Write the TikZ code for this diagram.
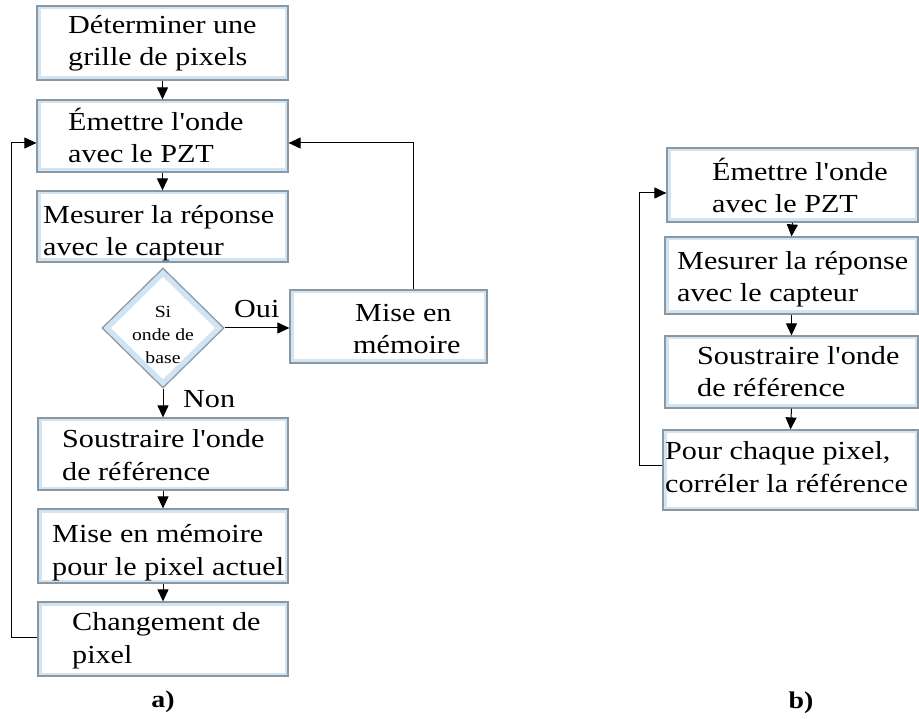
\documentclass[tikz,border=0pt]{standalone}
\usepackage{fontspec}
\setmainfont{Liberation Serif}[FakeStretch=1.16, Ligatures=TeXOff]
\usetikzlibrary{arrows.meta,shapes.geometric,fit,calc}
\definecolor{boxgray}{HTML}{8A98A3}
\definecolor{bandblue}{HTML}{D2E3F1}
\begin{document}
\begin{tikzpicture}[x=1pt,y=-1pt,
  box/.style={draw=boxgray, line width=1.2pt, fill=white, inner sep=0pt,
    path picture={\draw[line width=7pt, bandblue] (path picture bounding box.south west) rectangle (path picture bounding box.north east);}},
  decision/.style={diamond, draw=boxgray, line width=1.2pt, fill=white, inner sep=0pt,
    minimum width=122pt, minimum height=120pt,
    path picture={\draw[line width=12pt, bandblue] (path picture bounding box.north) -- (path picture bounding box.east) -- (path picture bounding box.south) -- (path picture bounding box.west) -- cycle;}},
  txt/.style={inner sep=0pt, align=left, anchor=base west, font=\fontsize{26}{32.5}\selectfont},
  small/.style={inner sep=0pt, align=center, font=\fontsize{17}{23}\selectfont},
  lbl/.style={inner sep=0pt, anchor=base west, font=\fontsize{26}{30}\selectfont},
  capt/.style={inner sep=0pt, anchor=base, font=\fontsize{24}{28}\selectfont\bfseries},
  arr/.style={draw=black, line width=1pt, -{Triangle[length=12pt,width=11pt]}}]
\useasboundingbox[fill=white] (0,0) rectangle (919,719);

% left column boxes
\node[box, fit={(37,6) (288,80)}] (b1) {};
\node[box, fit={(37,100) (288,172)}] (b2) {};
\node[box, fit={(37,191) (288,262)}] (b3) {};
\node[decision] (dia) at (163,328) {};
\node[box, fit={(290,290) (487,363)}] (mem) {};
\node[box, fit={(38,418) (288,490)}] (b4) {};
\node[box, fit={(38,509) (288,583)}] (b5) {};
\node[box, fit={(38,602) (288,676)}] (b6) {};

% right column boxes
\node[box, fit={(667,148) (918,222)}] (r1) {};
\node[box, fit={(665,237) (918,314)}] (r2) {};
\node[box, fit={(665,336) (918,408)}] (r3) {};
\node[box, fit={(663,430) (918,510)}] (r4) {};

% texts (anchor = baseline of the last line)
\node[txt] (t1) at (68,66) {Déterminer une\\grille de pixels};
\node[txt] (t2) at (68,163) {Émettre l'onde\\avec le PZT};
\node[txt] (t3) at (43,256) {Mesurer la réponse\\avec le capteur};
\node[small] (td) at (163,335) {Si\\onde de\\base};
\node[txt] (tm) at (353,354) {\hspace*{2pt}Mise en\\mémoire};
\node[txt] (t4) at (62,480) {Soustraire l'onde\\de référence};
\node[txt] (t5) at (52,575) {Mise en mémoire\\pour le pixel actuel};
\node[txt] (t6) at (72,663) {Changement de\\pixel};

\node[txt] (s1) at (712,213) {Émettre l'onde\\avec le PZT};
\node[txt] (s2) at (677,302) {Mesurer la réponse\\avec le capteur};
\node[txt] (s3) at (697,397) {Soustraire l'onde\\de référence};
\node[txt] (s4) at (665,492) {Pour chaque pixel,\\corréler la référence};

% labels
\node[lbl] (oui) at (234,318) {Oui};
\node[lbl] (non) at (183,407) {Non};
\node[capt] (ca) at (163,707) {a)};
\node[capt] (cb) at (801,708) {b)};

% helper coordinates
\coordinate (c1) at (413,143);
\coordinate (c2) at (11,637);
\coordinate (c3) at (639,465);
\coordinate (c4) at (639,193);

% connectors left
\draw[arr] (b1.south) -- (b2.north);
\draw[arr] (b2.south) -- (b3.north);
\draw[arr] (dia.east) -- (dia.east -| mem.west);
\draw[arr] (dia.south) -- (b4.north);
\draw[arr] (b4.south) -- (b5.north);
\draw[arr] (b5.south) -- (b6.north);
\draw[arr] (mem.north -| c1) -- (c1) -- (b2.east |- c1);
\draw[arr] (b6.west |- c2) -- (c2) -- (c2 |- c1) -- (b2.west |- c1);

% connectors right
\draw[arr] (r1.south) -- (r2.north);
\draw[arr] (r2.south) -- (r3.north);
\draw[arr] (r3.south) -- (r4.north);
\draw[arr] (r4.west |- c3) -- (c3) -- (c4) -- (r1.west |- c4);
\end{tikzpicture}
\end{document}
